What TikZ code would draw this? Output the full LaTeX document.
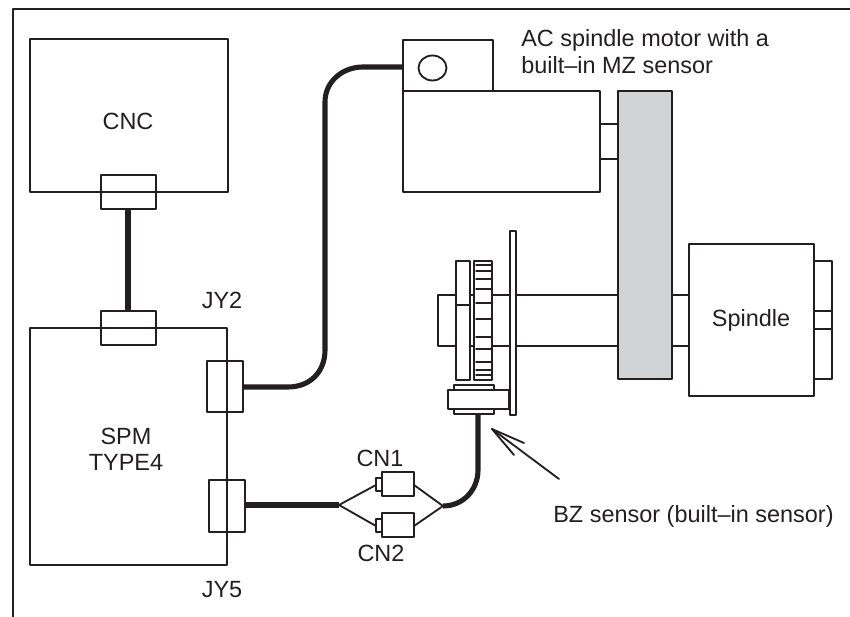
\documentclass[tikz,border=0pt]{standalone}
\usepackage{fontspec}
\setmainfont{Liberation Sans}
\definecolor{inkblk}{rgb}{0.137,0.122,0.125}
\definecolor{beltgry}{rgb}{0.82,0.827,0.831}
\tikzset{
  part/.style={draw=inkblk,line width=1.05pt},
  thin part/.style={draw=inkblk,line width=0.8pt},
  cable/.style={draw=inkblk,line width=2.9pt},
  lbl/.style={text=inkblk,inner sep=0pt,anchor=base,font=\fontsize{13.35}{16}\selectfont},
  lblw/.style={lbl,anchor=base west}
}
\begin{document}
\begin{tikzpicture}[x=0.02cm,y=-0.02cm,line cap=round,line join=round]
    \useasboundingbox (0,0) rectangle (850,617);
    % frame
    \draw [part,line cap=butt] (13,617) -- (13,9) -- (850,9);
    % cnc and spm
    \draw [part] (30,39) rectangle (228,192);
    \draw [part] (30,328) rectangle (227,565);
    \draw [part] (101,175) rectangle (156,209);
    \draw [part] (101,311) rectangle (156,345);
    \draw [part] (207,361) rectangle (243,412);
    \draw [part] (209,480) rectangle (245,532);
    % motor
    \draw [part] (403,91) rectangle (600,192);
    \draw [part] (403,40) rectangle (493,91);
    \draw [part] (432.5,68) ellipse [x radius=14,y radius=12.5];
    \draw [part] (600,124) rectangle (618,159);
    \fill [beltgry] (618,91) rectangle (672,379);
    \draw [part] (618,91) rectangle (672,379);
    % spindle
    \draw [part] (672,295) rectangle (689,346);
    \draw [part] (689,244) rectangle (814,396);
    \draw [part] (814,261) rectangle (832,379);
    \draw [part] (814,311) -- (832,311);
    \draw [part] (814,329) -- (832,329);
    % shaft, disc, gear, plate
    \draw [part] (618,295) -- (516,295);
    \draw [part] (618,346) -- (516,346);
    \draw [part] (510,295) -- (492,295);
    \draw [part] (510,346) -- (492,346);
    \draw [part] (474,295) -- (470,295);
    \draw [part] (474,346) -- (470,346);
    \draw [part] (456,295) -- (438,295) -- (438,346) -- (456,346);
    \draw [part] (456,261) rectangle (470,380);
    \draw [part] (456,305) -- (469,305);
    \draw [part] (474,261) rectangle (492,380);
    \foreach \ty in {265,271,279,289,303,319,337,349,362,370,375}
      \draw [thin part] (476,\ty) -- (492,\ty);
    \draw [part] (510,231) rectangle (516,415);
    % bz sensor
    \draw [part] (454,385) rectangle (494,390);
    \draw [part] (448,390) rectangle (509,409);
    \draw [part] (454,409) rectangle (494,414);
    % cn1 cn2
    \draw [part] (382,472) rectangle (414,496);
    \draw [part] (376,478) rectangle (382,491);
    \draw [part] (382,513) rectangle (414,537);
    \draw [part] (376,519) rectangle (382,532);
    % cable ends
    \coordinate (cncend) at (128,209);
    \coordinate (spmtop) at (128,311);
    \coordinate (jytwo) at (243,387);
    \coordinate (motorin) at (403,67);
    \coordinate (jyfive) at (245,505);
    \coordinate (splitl) at (339,505);
    \coordinate (splitr) at (443,506);
    \coordinate (bzend) at (478,414);
    \coordinate (cnonel) at (376,485);
    \coordinate (cntwol) at (376,526);
    \coordinate (cnoner) at (414,485);
    \coordinate (cntwor) at (414,526);
    \draw [cable,line cap=butt] (cncend) -- (spmtop);
    \draw [cable,line cap=butt] (jytwo) -- (288,387) .. controls (310,387) and (325,372) .. (325,350) -- (325,102) .. controls (325,82) and (342,67) .. (363,67) -- (motorin);
    \draw [cable,line cap=butt] (jyfive) -- (splitl);
    \draw [cable,line cap=butt] (bzend) -- (478,470) .. controls (478,490) and (463,506) .. (splitr);
    \draw [part] (splitl) -- (cnonel);
    \draw [part] (splitl) -- (cntwol);
    \draw [part] (cnoner) -- (splitr);
    \draw [part] (cntwor) -- (splitr);
    % pointer
    \coordinate (bztip) at (492,429);
    \draw [part] (bztip) -- (559,479);
    \draw [part] (bztip) -- (524,443);
    \draw [part] (bztip) -- (514,455);
    % labels
    \node [lbl] (cnc) at (128,130) {CNC};
    \node [lbl] (spm) at (126,445) {SPM};
    \node [lbl] (type) at (126,471) {TYPE4};
    \node [lbl] (jyb) at (222,309) {JY2};
    \node [lbl] (jyf) at (222,598) {JY5};
    \node [lbl] (cna) at (380,467) {CN1};
    \node [lbl] (cnb) at (381,562) {CN2};
    \node [lbl] (spindle) at (751,327) {Spindle};
    \node [lblw] (motora) at (521,47) {AC spindle motor with a};
    \node [lblw] (motorb) at (521,74) {built–in MZ sensor};
    \node [lblw] (bzlbl) at (553,523) {BZ sensor (built–in sensor)};
\end{tikzpicture}
\end{document}
